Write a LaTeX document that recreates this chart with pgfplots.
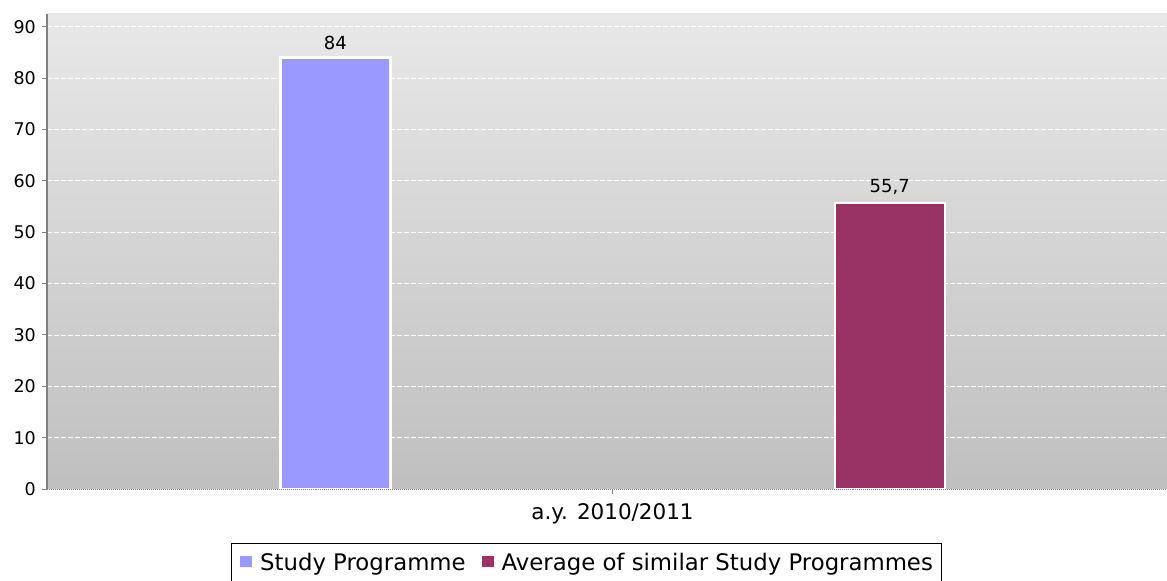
\documentclass[border=0pt]{standalone}
\usepackage{pgfplots}
\pgfplotsset{compat=1.18}
\usepackage{fontspec}
\setmainfont{DejaVu Sans}
\definecolor{barblue}{HTML}{9999FF}
\definecolor{barmag}{HTML}{993366}
\begin{document}
\fontsize{18bp}{22bp}\selectfont
\begin{tikzpicture}
\useasboundingbox (0,0) rectangle (1167bp,581bp);
\begin{axis}[
  at={(47bp,92bp)}, anchor=south west,
  scale only axis, width=1120bp, height=475bp,
  xmin=-1.02, xmax=1.0, ymin=0, ymax=92.5,
  ytick={0,10,...,90},
  xtick={0}, xticklabels={a.y. 2010/2011},
  axis x line*=bottom, axis y line*=left,
  x axis line style={-, densely dotted, color=gray, line width=1bp},
  y axis line style={-, color=gray, line width=1.5bp},
  tick align=outside, major tick length=5bp,
  tick style={color=gray, line width=1bp},
  ymajorgrids, grid style={white, dashed, line width=0.8bp, dash pattern=on 5bp off 2bp},
  axis background/.style={shade, top color=black!9, bottom color=black!25},
  /pgf/number format/assume math mode=true,
  /pgf/number format/use comma,
  yticklabel style={font=\fontsize{17.5bp}{21bp}\selectfont},
  xticklabel style={font=\fontsize{21.5bp}{25bp}\selectfont, yshift=-3bp},
  ybar, bar width=110bp,
  nodes near coords,
  every node near coord/.append style={font=\fontsize{18bp}{22bp}\selectfont, yshift=1bp},
  legend columns=-1,
  legend style={at={(0.4817,-0.1137)}, anchor=north, draw=black, line width=1.2bp,
    font=\fontsize{22.8bp}{26bp}\selectfont, inner xsep=9bp, inner ysep=4bp,
    nodes={inner xsep=0bp, inner ysep=6bp},
    /tikz/every odd column/.append style={column sep=8bp},
    /tikz/every even column/.append style={column sep=16bp}},
  legend image code/.code={\fill[#1, draw=none] (0bp,-3.5bp) rectangle (12bp,8bp);},
]
\addplot[fill=barblue, draw=white, line width=2.5bp, bar shift=0pt] coordinates {(-0.5,84)};
\addlegendentry{Study Programme}
\addplot[fill=barmag, draw=white, line width=2.5bp, bar shift=0pt] coordinates {(0.5,55.7)};
\addlegendentry{Average of similar Study Programmes}
\end{axis}
\end{tikzpicture}
\end{document}
